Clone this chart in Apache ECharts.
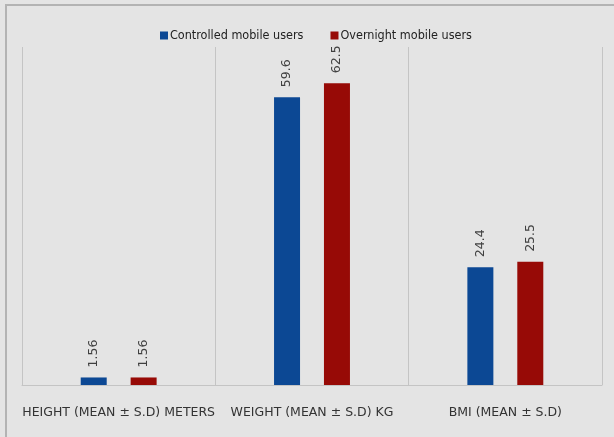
<!DOCTYPE html>
<html>
<head>
<meta charset="utf-8">
<script src="https://cdn.jsdelivr.net/npm/echarts@6/dist/echarts.min.js"></script>
<style>
  html, body { margin: 0; padding: 0; background: #e4e4e4; }
  #wrap { position: relative; width: 614px; height: 437px; overflow: hidden; }
  #frame { position: absolute; left: 5px; top: 4px; width: 640px; height: 460px;
           border-top: 2px solid #b3b3b3; border-left: 2px solid #b3b3b3; }
  #chart { position: absolute; left: 0; top: 0; width: 614px; height: 437px; }
</style>
</head>
<body>
<div id="wrap">
  <div id="frame"></div>
  <div id="chart"></div>
</div>
<script>
// Anthropometric measures for the two user groups
const categories = ['HEIGHT (MEAN ± S.D) METERS', 'WEIGHT (MEAN ± S.D) KG', 'BMI (MEAN ± S.D)'];
const seriesNames = ['Controlled mobile users', 'Overnight mobile users'];
const controlledValues = [1.56, 59.6, 24.4];
const overnightValues = [1.56, 62.5, 25.5];

const condensed = '"DejaVu Sans Condensed", sans-serif';
const wide = '"DejaVu Sans", sans-serif';

const chart = echarts.init(document.getElementById('chart'), null, { renderer: 'canvas' });

const labelStyle = {
  show: true,
  position: 'top',
  rotate: 90,
  align: 'left',
  verticalAlign: 'middle',
  distance: 10,
  color: '#404040',
  fontFamily: wide,
  fontSize: 12.5,
  formatter: p => String(p.value)
};

chart.setOption({
  backgroundColor: 'transparent',
  animation: false,
  legend: {
    data: seriesNames,
    top: 24,
    left: 155,
    itemWidth: 8,
    itemHeight: 8,
    itemGap: 27,
    icon: 'rect',
    textStyle: { color: '#222', fontFamily: condensed, fontSize: 12.5, padding: [0, 0, 0, -3] }
  },
  grid: { left: 22, right: 12, top: 47, bottom: 52 },
  xAxis: {
    type: 'category',
    data: categories,
    axisLine: { show: true, lineStyle: { color: '#c4c4c4', width: 1 } },
    axisTick: { show: false },
    splitLine: { show: true, lineStyle: { color: '#c4c4c4', width: 1 } },
    axisLabel: {
      margin: 21,
      color: '#333',
      fontFamily: wide,
      fontSize: 12.5,
      interval: 0
    }
  },
  yAxis: {
    type: 'value',
    min: 0,
    max: 70,
    show: false,
    splitLine: { show: false }
  },
  series: [
    {
      name: seriesNames[0],
      type: 'bar',
      data: controlledValues,
      barWidth: 26,
      barGap: '92%',
      itemStyle: { color: '#0c4894' },
      label: labelStyle
    },
    {
      name: seriesNames[1],
      type: 'bar',
      data: overnightValues,
      barWidth: 26,
      itemStyle: { color: '#970a06' },
      label: labelStyle
    }
  ]
});
</script>
</body>
</html>
